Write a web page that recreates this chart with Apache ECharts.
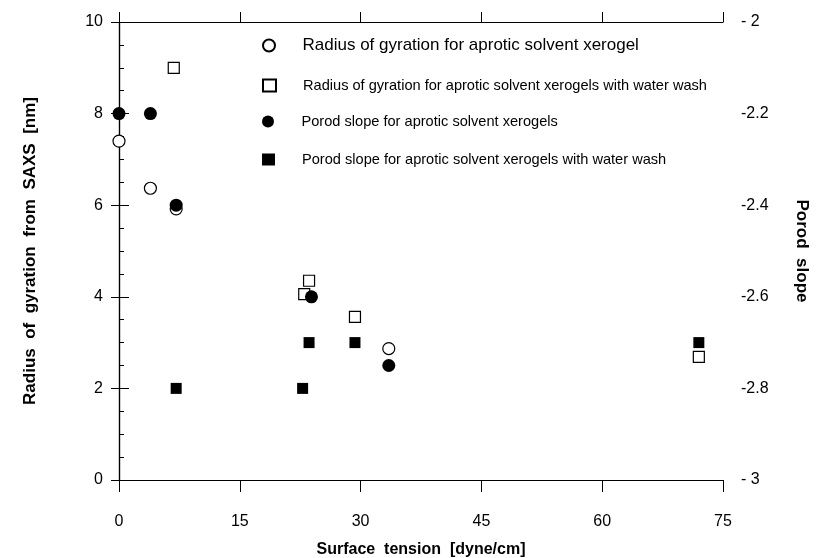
<!DOCTYPE html>
<html lang="en">

<head>
    <meta charset="utf-8" />
    <title>SAXS chart</title>
    <script src="https://cdn.jsdelivr.net/npm/echarts@6/dist/echarts.min.js"></script>
</head>

<body style="margin:0;background:#fff;">

    <div id="main" style="width: 836px;height:558px;"></div>
    <script type="text/javascript">

        // surface tension [dyne/cm] and values
        var rgX = [0, 3.9, 7.1, 33.5];
        var rgY = [7.4, 6.37, 5.92, 2.87];

        var rgWashX = [6.8, 23.6, 23.0, 29.3, 72.0];
        var rgWashY = [9.0, 4.35, 4.06, 3.56, 2.69];

        var porodX = [0, 3.9, 7.1, 23.9, 33.5];
        var porodY = [-2.2, -2.2, -2.4, -2.6, -2.75];

        var porodWashX = [7.1, 22.8, 23.6, 29.3, 72.0];
        var porodWashY = [-2.8, -2.8, -2.7, -2.7, -2.7];

        var names = [
            'Radius of gyration for aprotic solvent xerogel',
            'Radius of gyration for aprotic solvent xerogels with water wash',
            'Porod slope for aprotic solvent xerogels',
            'Porod slope for aprotic solvent xerogels with water wash'
        ];

        function pairs(xs, ys) {
            return xs.map(function (x, i) { return [x, ys[i]]; });
        }

        var font = '"Liberation Sans", Arial, sans-serif';

        // one legend per line so each row sits where the original has it
        function legendAt(i, top, size) {
            return {
                data: [names[i]],
                orient: 'vertical',
                left: 262,
                top: top,
                padding: 0,
                itemWidth: 13,
                itemHeight: 12,
                selectedMode: false,
                textStyle: {
                    color: '#000',
                    fontFamily: font,
                    fontSize: size,
                    padding: [0, 0, 0, 22]
                }
            };
        }

        var myChart = echarts.init(document.getElementById('main'));

        option = {
            backgroundColor: '#fff',
            animation: false,
            grid: { left: 119, right: 113, top: 22, bottom: 78, outerBoundsMode: 'none' },
            legend: [
                legendAt(0, 37, 17),
                legendAt(1, 78, 14.6),
                legendAt(2, 114, 14.6),
                legendAt(3, 152, 14.6)
            ],
            xAxis: [{
                type: 'value',
                position: 'bottom',
                min: 0, max: 75, interval: 15,
                name: 'Surface  tension  [dyne/cm]',
                nameLocation: 'middle',
                nameGap: 62,
                nameTextStyle: { color: '#000', fontFamily: font, fontWeight: 'bold', fontSize: 16 },
                axisLine: { lineStyle: { color: '#000', width: 1.2 } },
                axisTick: { length: 12, lineStyle: { color: '#000' } },
                axisLabel: { margin: 34, color: '#000', fontFamily: font, fontSize: 16 },
                splitLine: { show: false }
            }, {
                type: 'value',
                position: 'top',
                min: 0, max: 75, interval: 15,
                axisLine: { lineStyle: { color: '#000', width: 1.2 } },
                axisTick: { length: 10, lineStyle: { color: '#000' } },
                axisLabel: { show: false },
                splitLine: { show: false }
            }],
            yAxis: [{
                type: 'value',
                position: 'left',
                min: 0, max: 10, interval: 2,
                name: 'Radius  of  gyration  from  SAXS  [nm]',
                nameLocation: 'middle',
                nameGap: 80,
                nameTextStyle: { color: '#000', fontFamily: font, fontWeight: 'bold', fontSize: 17 },
                axisLine: { lineStyle: { color: '#000', width: 1.2 } },
                axisTick: { inside: true, length: 10, lineStyle: { color: '#000' } },
                minorTick: { show: true, splitNumber: 4, length: 5, lineStyle: { color: '#000' } },
                axisLabel: { margin: 16, color: '#000', fontFamily: font, fontSize: 16 },
                splitLine: { show: false }
            }, {
                type: 'value',
                position: 'right',
                min: -3, max: -2, interval: 0.2,
                name: 'Porod  slope',
                nameLocation: 'middle',
                nameGap: 70,
                nameRotate: -90,
                nameTextStyle: { color: '#000', fontFamily: font, fontWeight: 'bold', fontSize: 17 },
                axisLine: { lineStyle: { color: '#000', width: 1.2 } },
                axisTick: { inside: true, length: 8, lineStyle: { color: '#000' } },
                axisLabel: {
                    margin: 18, color: '#000', fontFamily: font, fontSize: 16,
                    formatter: function (v) {
                        var s = v.toFixed(1);
                        if (s === '-2.0') return '- 2';
                        if (s === '-3.0') return '- 3';
                        return s;
                    }
                },
                splitLine: { show: false }
            }],
            series: [{
                name: names[0],
                type: 'scatter',
                yAxisIndex: 0,
                symbol: 'circle',
                symbolSize: 12,
                clip: false,
                itemStyle: { color: '#fff', borderColor: '#000', borderWidth: 1.2, opacity: 1 },
                data: pairs(rgX, rgY)
            }, {
                name: names[1],
                type: 'scatter',
                yAxisIndex: 0,
                symbol: 'rect',
                symbolSize: 11,
                clip: false,
                itemStyle: { color: '#fff', borderColor: '#000', borderWidth: 1.2, opacity: 1 },
                data: pairs(rgWashX, rgWashY)
            }, {
                name: names[2],
                type: 'scatter',
                yAxisIndex: 1,
                symbol: 'circle',
                symbolSize: 13,
                clip: false,
                itemStyle: { color: '#000', opacity: 1 },
                data: pairs(porodX, porodY)
            }, {
                name: names[3],
                type: 'scatter',
                yAxisIndex: 1,
                symbol: 'rect',
                symbolSize: 11,
                clip: false,
                itemStyle: { color: '#000', opacity: 1 },
                data: pairs(porodWashX, porodWashY)
            }]
        };

        myChart.setOption(option);

    </script>
</body>

</html>
